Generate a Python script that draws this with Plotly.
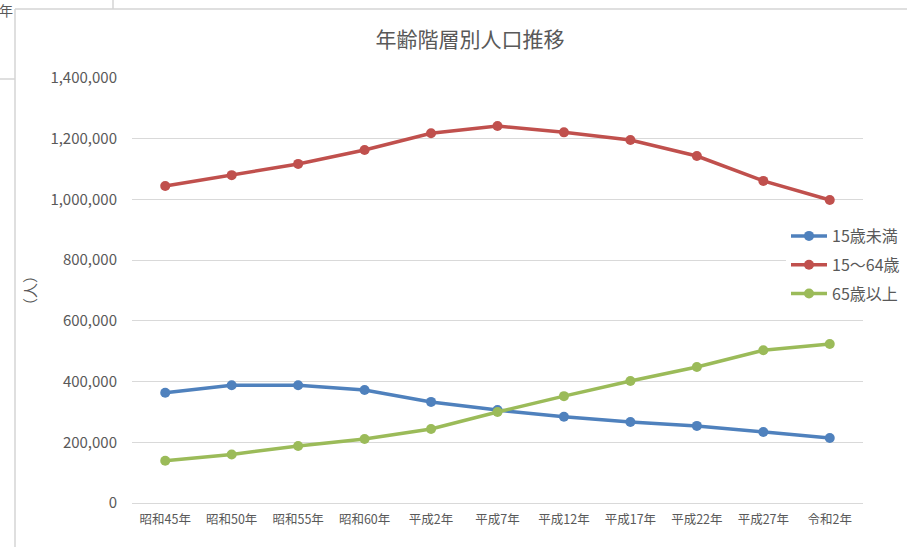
import plotly.graph_objects as go

categories = ["昭和45年", "昭和50年", "昭和55年", "昭和60年", "平成2年", "平成7年",
              "平成12年", "平成17年", "平成22年", "平成27年", "令和2年"]
under15 = [363000, 388000, 388000, 372000, 333000, 306000, 284000, 267000, 254000, 234000, 214000]
age15_64 = [1044000, 1080000, 1117000, 1163000, 1218000, 1242000, 1221000, 1196000, 1143000, 1061000, 998000]
over65 = [139000, 160000, 188000, 211000, 244000, 300000, 352000, 402000, 448000, 503000, 524000]
series_names = ["15歳未満", "15～64歳", "65歳以上"]
colors = ["#4F81BD", "#C0504D", "#9BBB59"]
y_ticks = [0, 200000, 400000, 600000, 800000, 1000000, 1200000, 1400000]

FONT = "Noto Sans CJK JP"
W, H = 907, 547
L, R, T, B = 132, 44, 78, 44
pw, ph = W - L - R, H - T - B

def px(x):
    return (x - L) / pw

def py(y):
    return (H - B - y) / ph

fig = go.Figure()
for name, vals, c in zip(series_names, [under15, age15_64, over65], colors):
    fig.add_trace(go.Scatter(
        x=categories, y=vals, name=name, mode="lines+markers",
        legendgroup=name,
        line=dict(color=c, width=3.5),
        marker=dict(color=c, size=10),
    ))

fig.update_layout(
    width=W, height=H,
    margin=dict(l=L, r=R, t=T, b=B, autoexpand=False),
    paper_bgcolor="white", plot_bgcolor="white",
    font=dict(family=FONT, color="#595959"),
    title=dict(text="年齢階層別人口推移", xref="paper", x=px(470), xanchor="center",
               y=1 - 40 / H, yanchor="middle",
               font=dict(size=21, color="#595959", family=FONT)),
    xaxis=dict(type="category", range=[-0.5, 10.5], showgrid=False,
               showline=True, linecolor="#d9d9d9", linewidth=1,
               ticks="", tickfont=dict(size=12.5, color="#595959"), ticklabelstandoff=5),
    yaxis=dict(range=[0, 1400000], tickvals=y_ticks,
               ticktext=[f"{v:,}" for v in y_ticks],
               showgrid=True, gridcolor="#d9d9d9", gridwidth=1,
               zeroline=False, ticks="", ticklabelstandoff=14,
               tickfont=dict(size=15, color="#595959"),
               title=dict(text="（人）", font=dict(size=15, color="#595959"), standoff=10)),
    legend=dict(x=px(786), y=py(219), xanchor="left", yanchor="top",
                bgcolor="white", borderwidth=0,
                font=dict(size=16, color="#595959"),
                tracegroupgap=5, itemwidth=36),
    showlegend=True,
)

# screenshot frame artifacts (chart area border and neighbouring cells)
line_col = "#d4d4d4"
shapes = [
    dict(type="line", xref="paper", yref="paper", x0=px(15), x1=px(907), y0=py(9), y1=py(9),
         line=dict(color=line_col, width=1.5)),
    dict(type="line", xref="paper", yref="paper", x0=px(15), x1=px(15), y0=py(9), y1=py(547),
         line=dict(color=line_col, width=1.5)),
    dict(type="line", xref="paper", yref="paper", x0=px(113), x1=px(113), y0=py(0), y1=py(9),
         line=dict(color=line_col, width=1.5)),
    dict(type="line", xref="paper", yref="paper", x0=px(0), x1=px(15), y0=py(79), y1=py(79),
         line=dict(color=line_col, width=1.5)),
]
fig.update_layout(shapes=shapes)
fig.add_annotation(text="年", xref="paper", yref="paper", x=px(-3), y=py(10),
                   xanchor="left", yanchor="middle", showarrow=False,
                   font=dict(size=14, color="#595959", family=FONT))

fig.write_html("out.html")
